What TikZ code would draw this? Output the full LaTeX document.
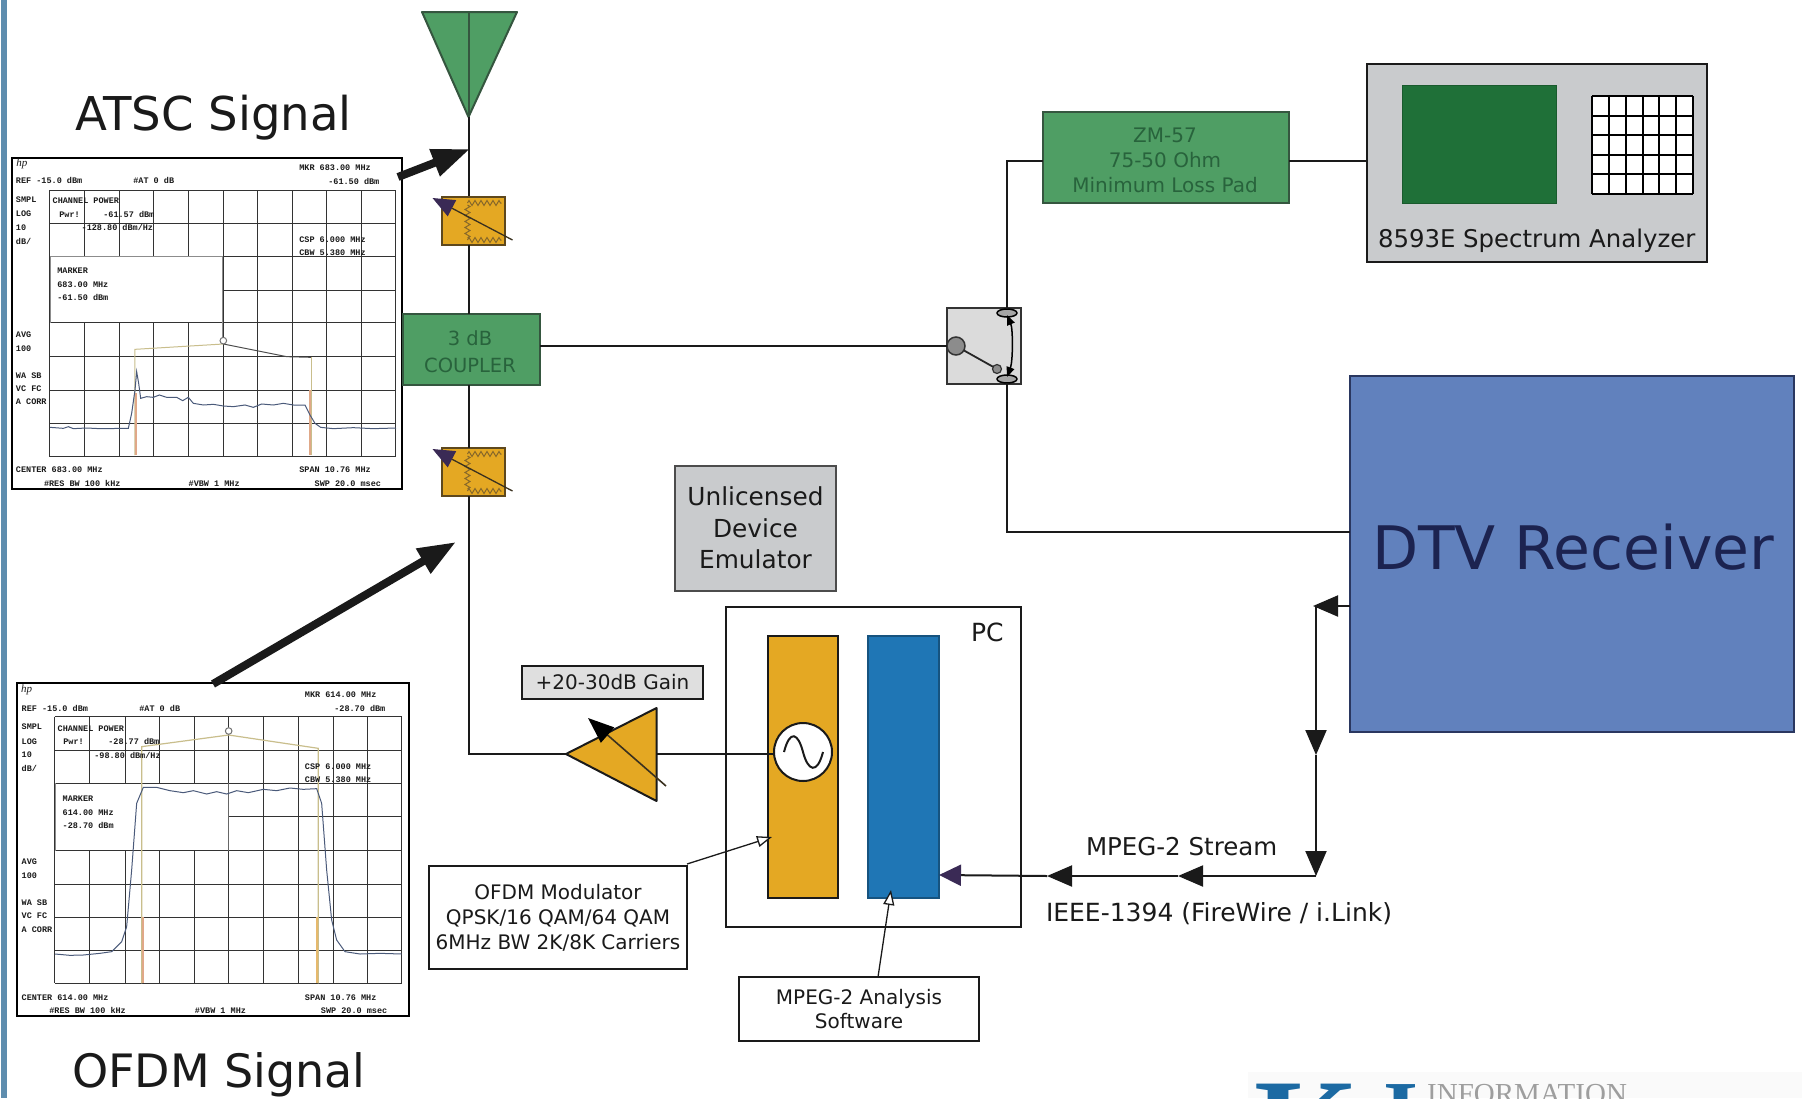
\documentclass[tikz,border=0pt]{standalone}
\usepackage{fontspec}
\setmainfont{DejaVu Sans}
\newfontfamily\monof{Liberation Mono}
\newfontfamily\serf{Liberation Serif}
\usetikzlibrary{arrows.meta,calc,decorations.pathmorphing,shapes.geometric}
\definecolor{cgreen}{HTML}{4F9E64}
\definecolor{cgreentxt}{HTML}{28633C}
\definecolor{cgreenline}{HTML}{35563F}
\definecolor{cscreen}{HTML}{1F7038}
\definecolor{corange}{HTML}{E4A823}
\definecolor{cblue}{HTML}{1F76B5}
\definecolor{cdtv}{HTML}{6181BD}
\definecolor{cdtvline}{HTML}{2A3760}
\definecolor{cdtvtxt}{HTML}{1C2350}
\definecolor{cbar}{HTML}{5E8DAE}
\definecolor{cgray}{HTML}{C9CBCD}
\definecolor{cbrown}{HTML}{86672A}
\definecolor{cpurple}{HTML}{3A2A55}
\definecolor{cink}{HTML}{1A1A1A}
\definecolor{ctan}{HTML}{C9BE8C}
\definecolor{cmark}{HTML}{E0A888}
\definecolor{ctrace}{HTML}{4A5A7A}
\newcounter{lab}
\newcommand{\plab}[3]{\stepcounter{lab}\node[plottext] (lab\thelab) at (#1,#2) {#3};}
\newcommand{\fsz}[2]{\fontsize{#1}{#2}\selectfont}
\tikzset{
  x=1pt,y=-1pt,
  wire/.style={draw=cink,line width=2pt},
  plottext/.style={anchor=west,inner sep=0pt,outer sep=0pt,text=cink,font=\monof\bfseries\fsz{8.5}{10}},
  bigtext/.style={anchor=base west,inner sep=0pt,outer sep=0pt,text=cink},
  whitebox/.style={draw=cink,line width=2pt,fill=white,inner sep=0pt,outer sep=0pt,align=center,text=cink},
  greenbox/.style={draw=cgreenline,line width=2pt,fill=cgreen,inner sep=0pt,outer sep=0pt},
  greentext/.style={inner sep=0pt,outer sep=0pt,align=center,text=cgreentxt},
  graybox/.style={draw=cink,line width=2pt,fill=cgray,inner sep=0pt,outer sep=0pt,align=center,text=cink},
  fat/.style={draw=cink,line width=8pt,-{Triangle[length=38pt,width=27pt]}},
  headA/.style={-{Triangle[length=25pt,width=21pt]}},
  leader/.style={draw=cink,line width=1.3pt,-{Triangle[open,fill=white,length=15pt,width=11pt]}},
  gridline/.style={draw=black!80,line width=1pt},
  attpic/.pic={
    \node[draw=cbrown!70!black,line width=2pt,fill=corange,minimum width=63pt,minimum height=48pt,inner sep=0pt,outer sep=0pt] (-box) at (0,0) {};
    \draw[cbrown,line width=1pt,decorate,decoration={zigzag,segment length=6pt,amplitude=2.5pt}] (-6,-18) -- (28,-18);
    \draw[cbrown,line width=1pt,decorate,decoration={zigzag,segment length=6pt,amplitude=2.5pt}] (-6,19) -- (28,19);
    \draw[cbrown,line width=1pt,decorate,decoration={zigzag,segment length=6pt,amplitude=2.5pt}] (-6,-16) -- (-6,17);
    \draw[cink!70!cbrown,line width=1.3pt,-{Triangle[length=22pt,width=18pt,color=cpurple]}] (39,19) -- (-41,-23);
  }
}
\begin{document}
\begin{tikzpicture}
\useasboundingbox (0,0) rectangle (1802,1098);
\clip (0,0) rectangle (1802,1098);
\fill[white] (0,0) rectangle (1802,1098);
\fill[cbar] (1,0) rectangle (7,1098);

% ---------- titles
\node[bigtext,font=\fsz{46.6}{54}] (atsc) at (75,130) {ATSC Signal};
\node[bigtext,font=\fsz{46}{54}] (ofdm) at (72,1087) {OFDM Signal};

% ---------- ATSC plot (coordinates in 1/3 pixel)
\begin{scope}[shift={(0,140)},x=0.33333pt,y=-0.33333pt]
\draw[draw=black,line width=2pt,fill=white] (35,55) rectangle (1205,1048);
\foreach \g in {150,253,358,462,566,670,774,878,981,1085,1188} \draw[gridline] (\g,150) -- (\g,950);
\foreach \g in {150,250,350,450,548,650,750,850,950} \draw[gridline] (150,\g) -- (1188,\g);
\fill[white] (151,351) rectangle (668,547);
\draw[black!45,line width=.8pt] (150,350) -- (668,350) -- (668,600);
\draw[black!45,line width=.8pt] (150,350) -- (150,548);
\draw[ctan,line width=1pt] (405,945) -- (405,628) -- (670,612);
\draw[black!70,line width=1pt] (670,612) -- (860,650) -- (935,652);
\draw[ctan,line width=1pt] (935,652) -- (935,945);
\draw[cmark,line width=1.8pt] (407,760) -- (407,945);
\draw[cmark,line width=1.8pt] (931,750) -- (931,945);
\draw[black!55,line width=1pt,fill=white] (670,602) circle (3.3pt);
\draw[ctrace,line width=1pt] (150,862) -- (190,865) -- (205,860) -- (220,866) -- (260,864) -- (300,866) -- (385,865) -- (395,820) -- (405,750) -- (410,695) -- (416,730) -- (422,775) -- (440,770) -- (460,772) -- (478,765) -- (500,772) -- (530,772) -- (548,782) -- (565,772) -- (580,790) -- (610,795) -- (640,793) -- (670,798) -- (700,800) -- (735,795) -- (760,802) -- (785,792) -- (820,795) -- (850,790) -- (880,795) -- (915,795) -- (930,825) -- (945,850) -- (962,862) -- (1000,866) -- (1060,863) -- (1120,866) -- (1188,864);
\node[font=\serf\itshape\fsz{11}{12},inner sep=0pt,text=cink] (hpa) at (66,72) {hp};
\plab{48}{122}{REF -15.0 dBm}
\plab{400}{122}{\#AT 0 dB}
\plab{898}{84}{MKR 683.00 MHz}
\plab{985}{124}{-61.50 dBm}
\plab{48}{178}{SMPL}
\plab{48}{222}{LOG}
\plab{48}{263}{10}
\plab{48}{303}{dB/}
\plab{158}{182}{CHANNEL POWER}
\plab{178}{223}{Pwr!}
\plab{310}{223}{-61.57 dBm}
\plab{245}{263}{-128.80 dBm/Hz}
\plab{898}{298}{CSP 6.000 MHz}
\plab{898}{338}{CBW 5.380 MHz}
\plab{172}{393}{MARKER}
\plab{172}{433}{683.00 MHz}
\plab{172}{473}{-61.50 dBm}
\plab{48}{583}{AVG}
\plab{48}{625}{100}
\plab{48}{706}{WA SB}
\plab{48}{746}{VC FC}
\plab{48}{786}{A CORR}
\plab{48}{990}{CENTER 683.00 MHz}
\plab{898}{990}{SPAN 10.76 MHz}
\plab{132}{1030}{\#RES BW 100 kHz}
\plab{566}{1030}{\#VBW 1 MHz}
\plab{944}{1030}{SWP 20.0 msec}
\end{scope}

% ---------- OFDM plot
\begin{scope}[shift={(0,670)},x=0.33333pt,y=-0.33333pt]
\draw[draw=black,line width=2pt,fill=white] (52,40) rectangle (1227,1038);
\foreach \g in {165,270,376,480,584,686,790,896,1000,1104,1205} \draw[gridline] (\g,140) -- (\g,940);
\foreach \g in {140,240,340,440,542,642,742,842,940} \draw[gridline] (165,\g) -- (1205,\g);
\fill[white] (166,341) rectangle (685,541);
\draw[black!45,line width=.8pt] (165,340) -- (165,542);
\draw[black!60,line width=.8pt] (686,340) -- (686,542);
\draw[ctan,line width=1.2pt] (425,940) -- (425,230) -- (686,195) -- (955,235) -- (955,940);
\draw[cmark,line width=2.2pt] (430,740) -- (430,940);
\draw[cmark!80!yellow,line width=2.2pt] (950,740) -- (950,940);
\draw[black!55,line width=1pt,fill=white] (686,183) circle (3.3pt);
\draw[ctrace,line width=1pt] (165,852) -- (210,856) -- (250,855) -- (300,850) -- (335,845) -- (365,815) -- (380,770) -- (395,600) -- (410,400) -- (430,352) -- (470,352) -- (510,362) -- (550,368) -- (580,362) -- (620,372) -- (650,365) -- (680,372) -- (710,362) -- (745,368) -- (790,358) -- (830,362) -- (870,354) -- (910,358) -- (950,356) -- (965,400) -- (980,600) -- (995,750) -- (1010,810) -- (1035,845) -- (1080,852) -- (1140,850) -- (1205,852);
\node[font=\serf\itshape\fsz{11}{12},inner sep=0pt,text=cink] (hpb) at (80,60) {hp};
\plab{65}{115}{REF -15.0 dBm}
\plab{418}{115}{\#AT 0 dB}
\plab{915}{74}{MKR 614.00 MHz}
\plab{1003}{115}{-28.70 dBm}
\plab{65}{170}{SMPL}
\plab{65}{215}{LOG}
\plab{65}{255}{10}
\plab{65}{295}{dB/}
\plab{173}{175}{CHANNEL POWER}
\plab{190}{215}{Pwr!}
\plab{325}{215}{-28.77 dBm}
\plab{283}{256}{-98.80 dBm/Hz}
\plab{915}{290}{CSP 6.000 MHz}
\plab{915}{330}{CBW 5.380 MHz}
\plab{188}{387}{MARKER}
\plab{188}{427}{614.00 MHz}
\plab{188}{467}{-28.70 dBm}
\plab{65}{575}{AVG}
\plab{65}{617}{100}
\plab{65}{698}{WA SB}
\plab{65}{738}{VC FC}
\plab{65}{778}{A CORR}
\plab{65}{983}{CENTER 614.00 MHz}
\plab{915}{983}{SPAN 10.76 MHz}
\plab{148}{1022}{\#RES BW 100 kHz}
\plab{585}{1022}{\#VBW 1 MHz}
\plab{963}{1022}{SWP 20.0 msec}
\end{scope}

% ---------- antenna
\coordinate (antl) at (422,12);
\coordinate (antr) at (517,12);
\coordinate (anttip) at (468.5,117);
\draw[draw=cgreenline,line width=2pt,fill=cgreen,line join=round] (antl) -- (antr) -- (anttip) -- cycle;
\draw[draw=cgreenline,line width=2pt] (anttip) -- (anttip |- antl);

% ---------- attenuators, coupler
\node[greenbox,minimum width=137pt,minimum height=71pt] (coupler) at (471.5,349.5) {};
\node[greentext,font=\fsz{19.5}{27}] (couplerlab) at (470,352) {3 dB\\COUPLER};
\draw[wire] (anttip) -- +(0,80);
\pic (atta) at (473.5,221) {attpic};
\pic (attb) at (473.5,472) {attpic};
\draw[wire] (atta-box.south -| anttip) -- (coupler.north -| anttip);
\draw[wire] (coupler.south -| anttip) -- (attb-box.north -| anttip);

% ---------- PC
\node[whitebox,minimum width=295pt,minimum height=320pt] (pc) at (873.5,767) {};
\node[bigtext,font=\fsz{25}{30}] (pclab) at (971,641) {PC};
\node[draw=cink,line width=1.5pt,fill=corange,minimum width=70pt,minimum height=262pt,inner sep=0pt,outer sep=0pt] (mod) at (803,767) {};
\node[draw=cblue!70!black,line width=1.5pt,fill=cblue,minimum width=71pt,minimum height=262pt,inner sep=0pt,outer sep=0pt] (ana) at (903.5,767) {};
\node[circle,draw=cink,line width=2pt,fill=white,minimum size=58pt,inner sep=0pt,outer sep=0pt] (osc) at (803,752) {};
\draw[cink,line width=2pt] (784,752) .. controls (790,729) and (798,733) .. (803,752) .. controls (808,771) and (817,775) .. (823,752);

% ---------- amplifier
\coordinate (amptip) at (566,754);
\coordinate (ampa) at (656.5,708);
\coordinate (ampb) at (656.5,801);
\coordinate (ampback) at (656.5,754);
\draw[draw=cink,line width=2pt,fill=corange,line join=round] (amptip) -- (ampa) -- (ampb) -- cycle;
\draw[wire] (attb-box.south -| anttip) |- (amptip);
\draw[wire] (ampback) -- (ampback -| osc.west);
\coordinate (adja) at (666,786);
\coordinate (adjb) at (588,718);
\draw[cink!70!cbrown,line width=1.6pt,-{Triangle[length=26pt,width=20pt,color=black]}] (adja) -- (adjb);
\node[graybox,fill=gray!25,minimum width=181pt,minimum height=33pt,font=\fsz{20}{24}] (gain) at (612.5,682) {+20-30dB Gain};

% ---------- caption boxes
\node[whitebox,minimum width=258pt,minimum height=103pt,font=\fsz{20}{25}] (ofdmbox) at (558,917.5) {OFDM Modulator\\QPSK/16 QAM/64 QAM\\6MHz BW 2K/8K Carriers};
\node[whitebox,minimum width=240pt,minimum height=64pt,font=\fsz{20}{24.5}] (mpegbox) at (859,1009) {MPEG-2 Analysis\\Software};
\coordinate (modtip) at (772,837);
\coordinate (anatip) at (891,890);
\draw[leader] ([yshift=2pt]ofdmbox.north east) -- (modtip);
\draw[leader] ([xshift=19pt]mpegbox.north) -- (anatip);

\node[graybox,draw=black!70,minimum width=161pt,minimum height=125pt,font=\fsz{24.8}{31.5}] (ude) at (755.5,528) {Unlicensed\\Device\\Emulator};

% ---------- right column
\node[greenbox,minimum width=246pt,minimum height=91pt] (zm) at (1166,157.5) {};
\node[greentext,font=\fsz{20}{25}] (zmlab) at (1165,160) {ZM-57\\75-50 Ohm\\Minimum Loss Pad};
\node[graybox,minimum width=340pt,minimum height=198pt] (sa) at (1537,163) {};
\node[draw=cscreen!80!black,line width=1pt,fill=cscreen,minimum width=154pt,minimum height=118pt,inner sep=0pt,outer sep=0pt] (screen) at (1479,144) {};
\fill[white] (1592,96) rectangle (1693,194);
\foreach \g in {1592,1608.8,1625.7,1642.5,1659.3,1676.2,1693} \draw[black,line width=2pt] (\g,96) -- (\g,194);
\foreach \g in {96,115.6,135.2,154.8,174.4,194} \draw[black,line width=2pt] (1592,\g) -- (1693,\g);
\node[bigtext,font=\fsz{24.4}{28}] (salab) at (1378,247) {8593E Spectrum Analyzer};

\node[draw=cdtvline,line width=2.5pt,fill=cdtv,minimum width=444pt,minimum height=356pt,inner sep=0pt,outer sep=0pt] (dtv) at (1572,554) {};
\node[bigtext,text=cdtvtxt,font=\fsz{60}{70}] (dtvlab) at (1372,569) {DTV Receiver};

% ---------- switch
\node[draw=black!80,line width=2pt,fill=black!14,minimum width=74pt,minimum height=76pt,inner sep=0pt,outer sep=0pt] (sw) at (984,346) {};
\node[circle,draw=black!80,line width=1.5pt,fill=black!45,minimum size=18pt,inner sep=0pt,outer sep=0pt] (piv) at (956,346) {};
\node[circle,draw=black!80,line width=1.2pt,fill=black!45,minimum size=9pt,inner sep=0pt,outer sep=0pt] (con) at (997,369) {};
\node[ellipse,draw=black,line width=1.5pt,fill=black!35,minimum width=20pt,minimum height=8pt,inner sep=0pt,outer sep=0pt] (ovt) at (1007,313) {};
\node[ellipse,draw=black,line width=1.5pt,fill=black!35,minimum width=20pt,minimum height=8pt,inner sep=0pt,outer sep=0pt] (ovb) at (1007,379) {};
\draw[black!85,line width=1.8pt] (piv) -- (con);
\draw[black,line width=1.5pt,{Triangle[length=10pt,width=8pt]}-{Triangle[length=10pt,width=8pt]}] ([yshift=2pt]ovt.south) .. controls +(6,14) and +(6,-16) .. ([yshift=-2pt]ovb.north);

% ---------- connectors
\draw[wire] (coupler.east |- piv) -- (piv.west);
\draw[wire] (ovt.north) |- ($(zm.west)+(0,3)$);
\draw[wire] ($(zm.east)+(0,3)$) -- ($(sa.west |- zm.east)+(0,3)$);
\coordinate (dtvin) at (1350,532);
\draw[wire] (ovb.south) |- (dtvin);

\coordinate (dtvout) at (1350,606);
\coordinate (tee) at (1316,606);
\coordinate (teelow) at (1316,876);
\coordinate (teemid) at (1316,755);
\coordinate (wmid) at (1178,876);
\coordinate (wmidb) at (1047,876);
\coordinate (anain) at (939,875);
\draw[wire,headA] (dtvout) -- (1313,606);
\draw[wire,headA] (tee) -- (teemid);
\draw[wire,headA] (teemid) -- (teelow);
\draw[wire,headA] (teelow) -- (wmid);
\draw[wire,headA] (wmid) -- (wmidb);
\draw[wire,-{Triangle[length=22pt,width=21pt,color=cpurple]}] (wmidb) -- (anain);

\node[bigtext,font=\fsz{24.5}{28}] (stream) at (1086,855) {MPEG-2 Stream};
\node[bigtext,font=\fsz{25}{28}] (ieee) at (1046,921) {IEEE-1394 (FireWire / i.Link)};

% ---------- fat arrows
\coordinate (fa) at (398,177);
\coordinate (fb) at (470,149);
\coordinate (fc) at (213,684);
\coordinate (fd) at (456,542);
\draw[fat] (fa) -- (fb);
\draw[fat] (fc) -- (fd);

% ---------- logo
\fill[black!2] (1248,1072) rectangle (1802,1098);
\node[anchor=base west,inner sep=0pt,text=cblue!90!black,font=\serf\bfseries\fsz{135}{140}] (logok) at (1254,1172) {K};
\node[anchor=base west,inner sep=0pt,text=cblue!90!black,font=\serf\bfseries\fsz{90}{100}] (logoi) at (1383,1143) {I};
\node[anchor=base west,inner sep=0pt,text=black!38,font=\serf\fsz{29}{32}] (logot) at (1427,1103) {INFORMATION};
\end{tikzpicture}
\end{document}
